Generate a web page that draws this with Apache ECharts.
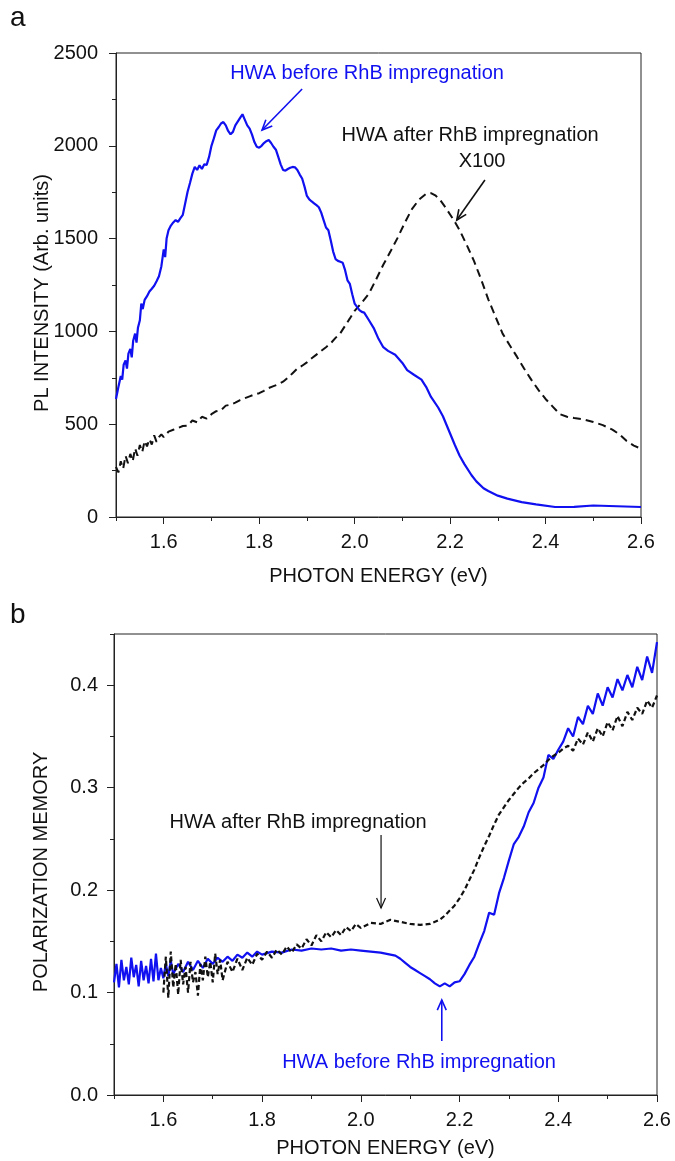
<!DOCTYPE html>
<html>
<head>
<meta charset="utf-8">
<script src="https://cdn.jsdelivr.net/npm/echarts@6/dist/echarts.min.js"></script>
<style>
  html, body { margin: 0; padding: 0; background: #fff; }
  #main { width: 675px; height: 1161px; }
</style>
</head>
<body>
<div id="main"></div>
<script>
// panel a : PL spectra
var energyA_before = [1.500,1.505,1.510,1.513,1.516,1.520,1.523,1.526,1.530,1.533,1.536,1.540,1.543,1.546,1.550,1.553,1.556,1.560,1.565,1.570,1.575,1.580,1.585,1.590,1.595,1.600,1.603,1.606,1.610,1.615,1.620,1.625,1.630,1.635,1.640,1.645,1.650,1.655,1.660,1.665,1.670,1.675,1.680,1.685,1.690,1.695,1.700,1.705,1.710,1.715,1.720,1.725,1.730,1.735,1.740,1.745,1.750,1.755,1.760,1.765,1.770,1.775,1.780,1.785,1.790,1.795,1.800,1.805,1.810,1.815,1.820,1.825,1.830,1.835,1.840,1.845,1.850,1.855,1.860,1.865,1.870,1.875,1.880,1.885,1.890,1.895,1.900,1.905,1.910,1.915,1.920,1.925,1.930,1.935,1.940,1.945,1.950,1.955,1.960,1.965,1.970,1.975,1.980,1.985,1.990,1.995,2.000,2.005,2.010,2.015,2.020,2.030,2.040,2.050,2.060,2.070,2.085,2.100,2.110,2.125,2.140,2.150,2.160,2.175,2.185,2.200,2.210,2.220,2.230,2.245,2.255,2.270,2.280,2.300,2.320,2.350,2.380,2.420,2.460,2.500,2.550,2.600];
var intA_before = [636,700,760,740,820,843,800,880,905,860,950,988,940,1020,1060,1150,1120,1170,1190,1215,1230,1246,1270,1297,1350,1442,1400,1500,1545,1570,1587,1600,1590,1610,1628,1690,1752,1800,1850,1886,1870,1895,1875,1900,1897,1940,2000,2040,2083,2100,2120,2128,2110,2080,2062,2075,2110,2130,2150,2170,2140,2110,2093,2060,2020,1995,1990,2000,2015,2025,2031,2015,1995,1979,1940,1900,1870,1866,1875,1882,1886,1884,1870,1845,1824,1780,1730,1711,1700,1690,1680,1669,1640,1600,1560,1545,1490,1430,1390,1380,1375,1370,1330,1275,1256,1200,1150,1132,1115,1105,1101,1060,1018,960,915,895,874,830,791,765,740,700,647,590,543,450,388,330,285,225,192,155,140,115,99,80,68,54,55,62,58,54];

var energyA_after = [1.500,1.505,1.510,1.515,1.520,1.525,1.530,1.535,1.540,1.545,1.550,1.555,1.560,1.565,1.570,1.575,1.580,1.585,1.590,1.595,1.600,1.610,1.620,1.630,1.640,1.650,1.660,1.670,1.680,1.690,1.700,1.710,1.720,1.730,1.740,1.750,1.760,1.770,1.780,1.790,1.800,1.810,1.820,1.830,1.840,1.850,1.860,1.870,1.880,1.890,1.900,1.910,1.920,1.930,1.940,1.950,1.960,1.970,1.980,1.990,2.000,2.015,2.030,2.045,2.060,2.075,2.090,2.105,2.120,2.135,2.150,2.160,2.170,2.180,2.190,2.200,2.210,2.220,2.235,2.250,2.265,2.280,2.295,2.310,2.325,2.340,2.355,2.370,2.385,2.400,2.415,2.430,2.445,2.460,2.480,2.500,2.520,2.540,2.555,2.570,2.585,2.600];
var intA_after = [270,240,300,260,330,290,340,300,370,330,388,350,410,380,420,390,440,405,430,445,430,460,470,480,490,492,520,510,540,530,554,570,575,600,605,616,630,640,650,660,667,680,695,705,715,729,750,775,800,815,833,855,875,895,915,936,965,990,1030,1070,1111,1155,1204,1280,1359,1430,1504,1585,1659,1710,1742,1745,1731,1705,1669,1630,1590,1545,1465,1380,1280,1173,1080,988,925,864,800,740,685,636,595,554,540,533,525,512,495,471,445,409,385,368];

// panel b : polarization memory
var energyB_before = [1.500,1.505,1.510,1.515,1.520,1.525,1.530,1.535,1.540,1.545,1.550,1.555,1.560,1.565,1.570,1.575,1.580,1.585,1.590,1.595,1.600,1.605,1.610,1.615,1.620,1.630,1.640,1.650,1.660,1.670,1.680,1.690,1.700,1.710,1.720,1.730,1.740,1.750,1.760,1.770,1.780,1.790,1.800,1.820,1.840,1.860,1.880,1.900,1.920,1.940,1.960,1.980,2.000,2.020,2.040,2.060,2.070,2.080,2.090,2.100,2.110,2.120,2.130,2.140,2.150,2.160,2.170,2.180,2.190,2.200,2.210,2.220,2.230,2.240,2.250,2.260,2.270,2.280,2.290,2.300,2.310,2.320,2.330,2.340,2.350,2.360,2.370,2.380,2.390,2.400,2.410,2.420,2.430,2.440,2.450,2.460,2.470,2.480,2.490,2.500,2.510,2.520,2.530,2.540,2.550,2.560,2.570,2.580,2.590,2.600];
var pmB_before = [0.110,0.128,0.105,0.132,0.112,0.125,0.108,0.134,0.115,0.127,0.106,0.131,0.112,0.126,0.109,0.133,0.111,0.138,0.112,0.124,0.114,0.128,0.116,0.131,0.118,0.128,0.120,0.130,0.122,0.131,0.124,0.133,0.128,0.134,0.130,0.135,0.131,0.137,0.134,0.139,0.135,0.140,0.137,0.140,0.139,0.142,0.141,0.143,0.142,0.143,0.141,0.142,0.141,0.140,0.139,0.137,0.136,0.133,0.129,0.125,0.122,0.119,0.116,0.113,0.109,0.106,0.109,0.106,0.110,0.111,0.118,0.127,0.135,0.148,0.160,0.178,0.176,0.197,0.212,0.229,0.245,0.252,0.262,0.276,0.285,0.300,0.310,0.332,0.328,0.337,0.345,0.358,0.350,0.369,0.362,0.380,0.372,0.392,0.380,0.398,0.388,0.406,0.395,0.410,0.398,0.418,0.405,0.428,0.412,0.442];

var energyB_after = [1.600,1.605,1.610,1.615,1.620,1.625,1.630,1.635,1.640,1.645,1.650,1.655,1.660,1.665,1.670,1.675,1.680,1.685,1.690,1.695,1.700,1.705,1.710,1.715,1.720,1.730,1.740,1.750,1.760,1.770,1.780,1.790,1.800,1.810,1.820,1.830,1.840,1.850,1.860,1.870,1.880,1.890,1.900,1.910,1.920,1.930,1.940,1.950,1.960,1.970,1.980,1.990,2.000,2.020,2.040,2.060,2.080,2.100,2.120,2.140,2.160,2.170,2.180,2.190,2.200,2.210,2.220,2.230,2.240,2.250,2.260,2.270,2.280,2.290,2.300,2.310,2.320,2.330,2.340,2.350,2.360,2.370,2.380,2.390,2.400,2.410,2.420,2.430,2.440,2.450,2.460,2.470,2.480,2.490,2.500,2.510,2.520,2.530,2.540,2.550,2.560,2.570,2.580,2.590,2.600];
var pmB_after = [0.100,0.135,0.095,0.140,0.105,0.128,0.098,0.132,0.108,0.125,0.100,0.130,0.110,0.120,0.097,0.128,0.112,0.135,0.115,0.130,0.110,0.138,0.118,0.132,0.112,0.130,0.120,0.133,0.122,0.134,0.127,0.138,0.132,0.140,0.134,0.142,0.137,0.145,0.139,0.147,0.143,0.152,0.146,0.156,0.150,0.159,0.154,0.161,0.156,0.164,0.160,0.167,0.163,0.168,0.167,0.171,0.169,0.167,0.166,0.167,0.171,0.175,0.180,0.185,0.192,0.200,0.210,0.220,0.232,0.243,0.253,0.264,0.274,0.281,0.288,0.294,0.300,0.305,0.309,0.314,0.318,0.322,0.327,0.331,0.334,0.338,0.341,0.336,0.348,0.342,0.354,0.345,0.358,0.350,0.364,0.356,0.370,0.360,0.374,0.366,0.378,0.372,0.385,0.378,0.390];

// tick labels
var xTicks = [1.6, 1.8, 2.0, 2.2, 2.4, 2.6];
var yTicksA = [0, 500, 1000, 1500, 2000, 2500];
var yTicksB = [0, 0.1, 0.2, 0.3, 0.4];

var BLUE = '#1010f0';
var FONT = '"Liberation Sans", Arial, sans-serif';
var FS = 20;

function zip(xs, ys) {
  var out = [];
  for (var i = 0; i < xs.length; i++) out.push([xs[i], ys[i]]);
  return out;
}

// main x axis with labels
function xMajor(g) {
  return {
    type: 'value', gridIndex: g, min: 1.5, max: 2.6, position: 'bottom',
    axisLine: { show: true, onZero: false, lineStyle: { color: '#222', width: 1 } },
    axisTick: { show: true, customValues: xTicks, length: 7, lineStyle: { color: '#222' } },
    axisLabel: { customValues: xTicks, formatter: function (v) { return v.toFixed(1); },
      fontSize: FS, color: '#111', fontFamily: FONT, margin: 15 },
    splitLine: { show: false }
  };
}
// small ticks only
function xMinor(g) {
  return {
    type: 'value', gridIndex: g, min: 1.5, max: 2.6, interval: 0.1, position: 'bottom',
    axisLine: { show: false }, axisLabel: { show: false }, splitLine: { show: false },
    axisTick: { show: true, length: 4, lineStyle: { color: '#222' } }
  };
}

var myChart = echarts.init(document.getElementById('main'));

option = {
  backgroundColor: '#fff',
  animation: false,
  grid: [
    { left: 116, top: 53, width: 525, height: 464, show: true, borderColor: '#222', borderWidth: 1 },
    { left: 114, top: 634, width: 543, height: 461, show: true, borderColor: '#222', borderWidth: 1 }
  ],
  xAxis: [xMajor(0), xMinor(0), xMajor(1), xMinor(1)],
  yAxis: [
    {
      type: 'value', gridIndex: 0, min: 0, max: 2500,
      axisLine: { show: true, lineStyle: { color: '#222' } },
      axisTick: { show: true, customValues: yTicksA, length: 7, lineStyle: { color: '#222' } },
      axisLabel: { customValues: yTicksA, formatter: function (v) { return String(v); },
        fontSize: FS, color: '#111', fontFamily: FONT, margin: 18 },
      splitLine: { show: false }
    },
    {
      type: 'value', gridIndex: 0, min: 0, max: 2500, interval: 250, position: 'left',
      axisLine: { show: false }, axisLabel: { show: false }, splitLine: { show: false },
      axisTick: { show: true, length: 4, lineStyle: { color: '#222' } }
    },
    {
      type: 'value', gridIndex: 1, min: 0, max: 0.45,
      axisLine: { show: true, lineStyle: { color: '#222' } },
      axisTick: { show: true, customValues: yTicksB, length: 7, lineStyle: { color: '#222' } },
      axisLabel: { customValues: yTicksB, formatter: function (v) { return v.toFixed(1); },
        fontSize: FS, color: '#111', fontFamily: FONT, margin: 16 },
      splitLine: { show: false }
    },
    {
      type: 'value', gridIndex: 1, min: 0, max: 0.45, interval: 0.05, position: 'left',
      axisLine: { show: false }, axisLabel: { show: false }, splitLine: { show: false },
      axisTick: { show: true, length: 4, lineStyle: { color: '#222' } }
    }
  ],
  series: [
    {
      name: 'after a', type: 'line', xAxisIndex: 0, yAxisIndex: 0, showSymbol: false,
      lineStyle: { color: '#111', width: 2, type: [8, 5] },
      data: zip(energyA_after, intA_after)
    },
    {
      name: 'before a', type: 'line', xAxisIndex: 0, yAxisIndex: 0, showSymbol: false,
      lineStyle: { color: BLUE, width: 2.2 },
      data: zip(energyA_before, intA_before)
    },
    {
      name: 'before b', type: 'line', xAxisIndex: 2, yAxisIndex: 2, showSymbol: false,
      lineStyle: { color: BLUE, width: 2.2 },
      data: zip(energyB_before, pmB_before)
    },
    {
      name: 'after b', type: 'line', xAxisIndex: 2, yAxisIndex: 2, showSymbol: false,
      lineStyle: { color: '#111', width: 2.2, type: [5, 3] },
      data: zip(energyB_after, pmB_after)
    }
  ]
};

myChart.setOption(option);

// annotations, placed in data coordinates
function px(g, pt) {
  return myChart.convertToPixel({ xAxisIndex: g * 2, yAxisIndex: g * 2 }, pt);
}
function label(g, pt, text, color, rot) {
  var p = px(g, pt);
  return { type: 'text', x: p[0], y: p[1], rotation: rot || 0,
    style: { text: text, fill: color, font: FS + 'px ' + FONT, align: 'center', verticalAlign: 'middle' } };
}
//箭头：杆 + 两条斜线
function arrow(g, from, to, color, w) {
  var a = px(g, from), b = px(g, to);
  var ang = Math.atan2(b[1] - a[1], b[0] - a[0]), L = 11, s = 0.42;
  var h1 = [b[0] - L * Math.cos(ang - s), b[1] - L * Math.sin(ang - s)];
  var h2 = [b[0] - L * Math.cos(ang + s), b[1] - L * Math.sin(ang + s)];
  return [
    { type: 'polyline', shape: { points: [a, b] }, style: { stroke: color, lineWidth: w, fill: null } },
    { type: 'polyline', shape: { points: [h1, b, h2] }, style: { stroke: color, lineWidth: w, fill: null } }
  ];
}

var els = [
  { type: 'text', x: 10, y: 4, style: { text: 'a', fill: '#111', font: '28px ' + FONT } },
  { type: 'text', x: 10, y: 601, style: { text: 'b', fill: '#111', font: '28px ' + FONT } },
  // axis titles
  label(0, [2.05, -323], 'PHOTON ENERGY (eV)', '#111'),
  label(1, [2.05, -0.052], 'PHOTON ENERGY (eV)', '#111'),
  label(0, [1.345, 1207], 'PL INTENSITY (Arb. units)', '#111', Math.PI / 2),
  label(1, [1.354, 0.2177], 'POLARIZATION MEMORY', '#111', Math.PI / 2),
  // notes
  label(0, [2.026, 2387], 'HWA before RhB impregnation', BLUE),
  label(0, [2.242, 2058], 'HWA after RhB impregnation', '#111'),
  label(0, [2.267, 1913], 'X100', '#111'),
  label(1, [1.873, 0.2665], 'HWA after RhB impregnation', '#111'),
  label(1, [2.118, 0.0322], 'HWA before RhB impregnation', BLUE)
];
els = els.concat(arrow(0, [1.890, 2306], [1.806, 2085], BLUE, 1.6));
els = els.concat(arrow(0, [2.273, 1816], [2.214, 1600], '#111', 1.6));
els = els.concat(arrow(1, [2.041, 0.2538], [2.041, 0.1825], '#111', 1.2));
els = els.concat(arrow(1, [2.164, 0.0527], [2.164, 0.0927], BLUE, 1.6));

myChart.setOption({ graphic: { elements: els } });
</script>
</body>
</html>
